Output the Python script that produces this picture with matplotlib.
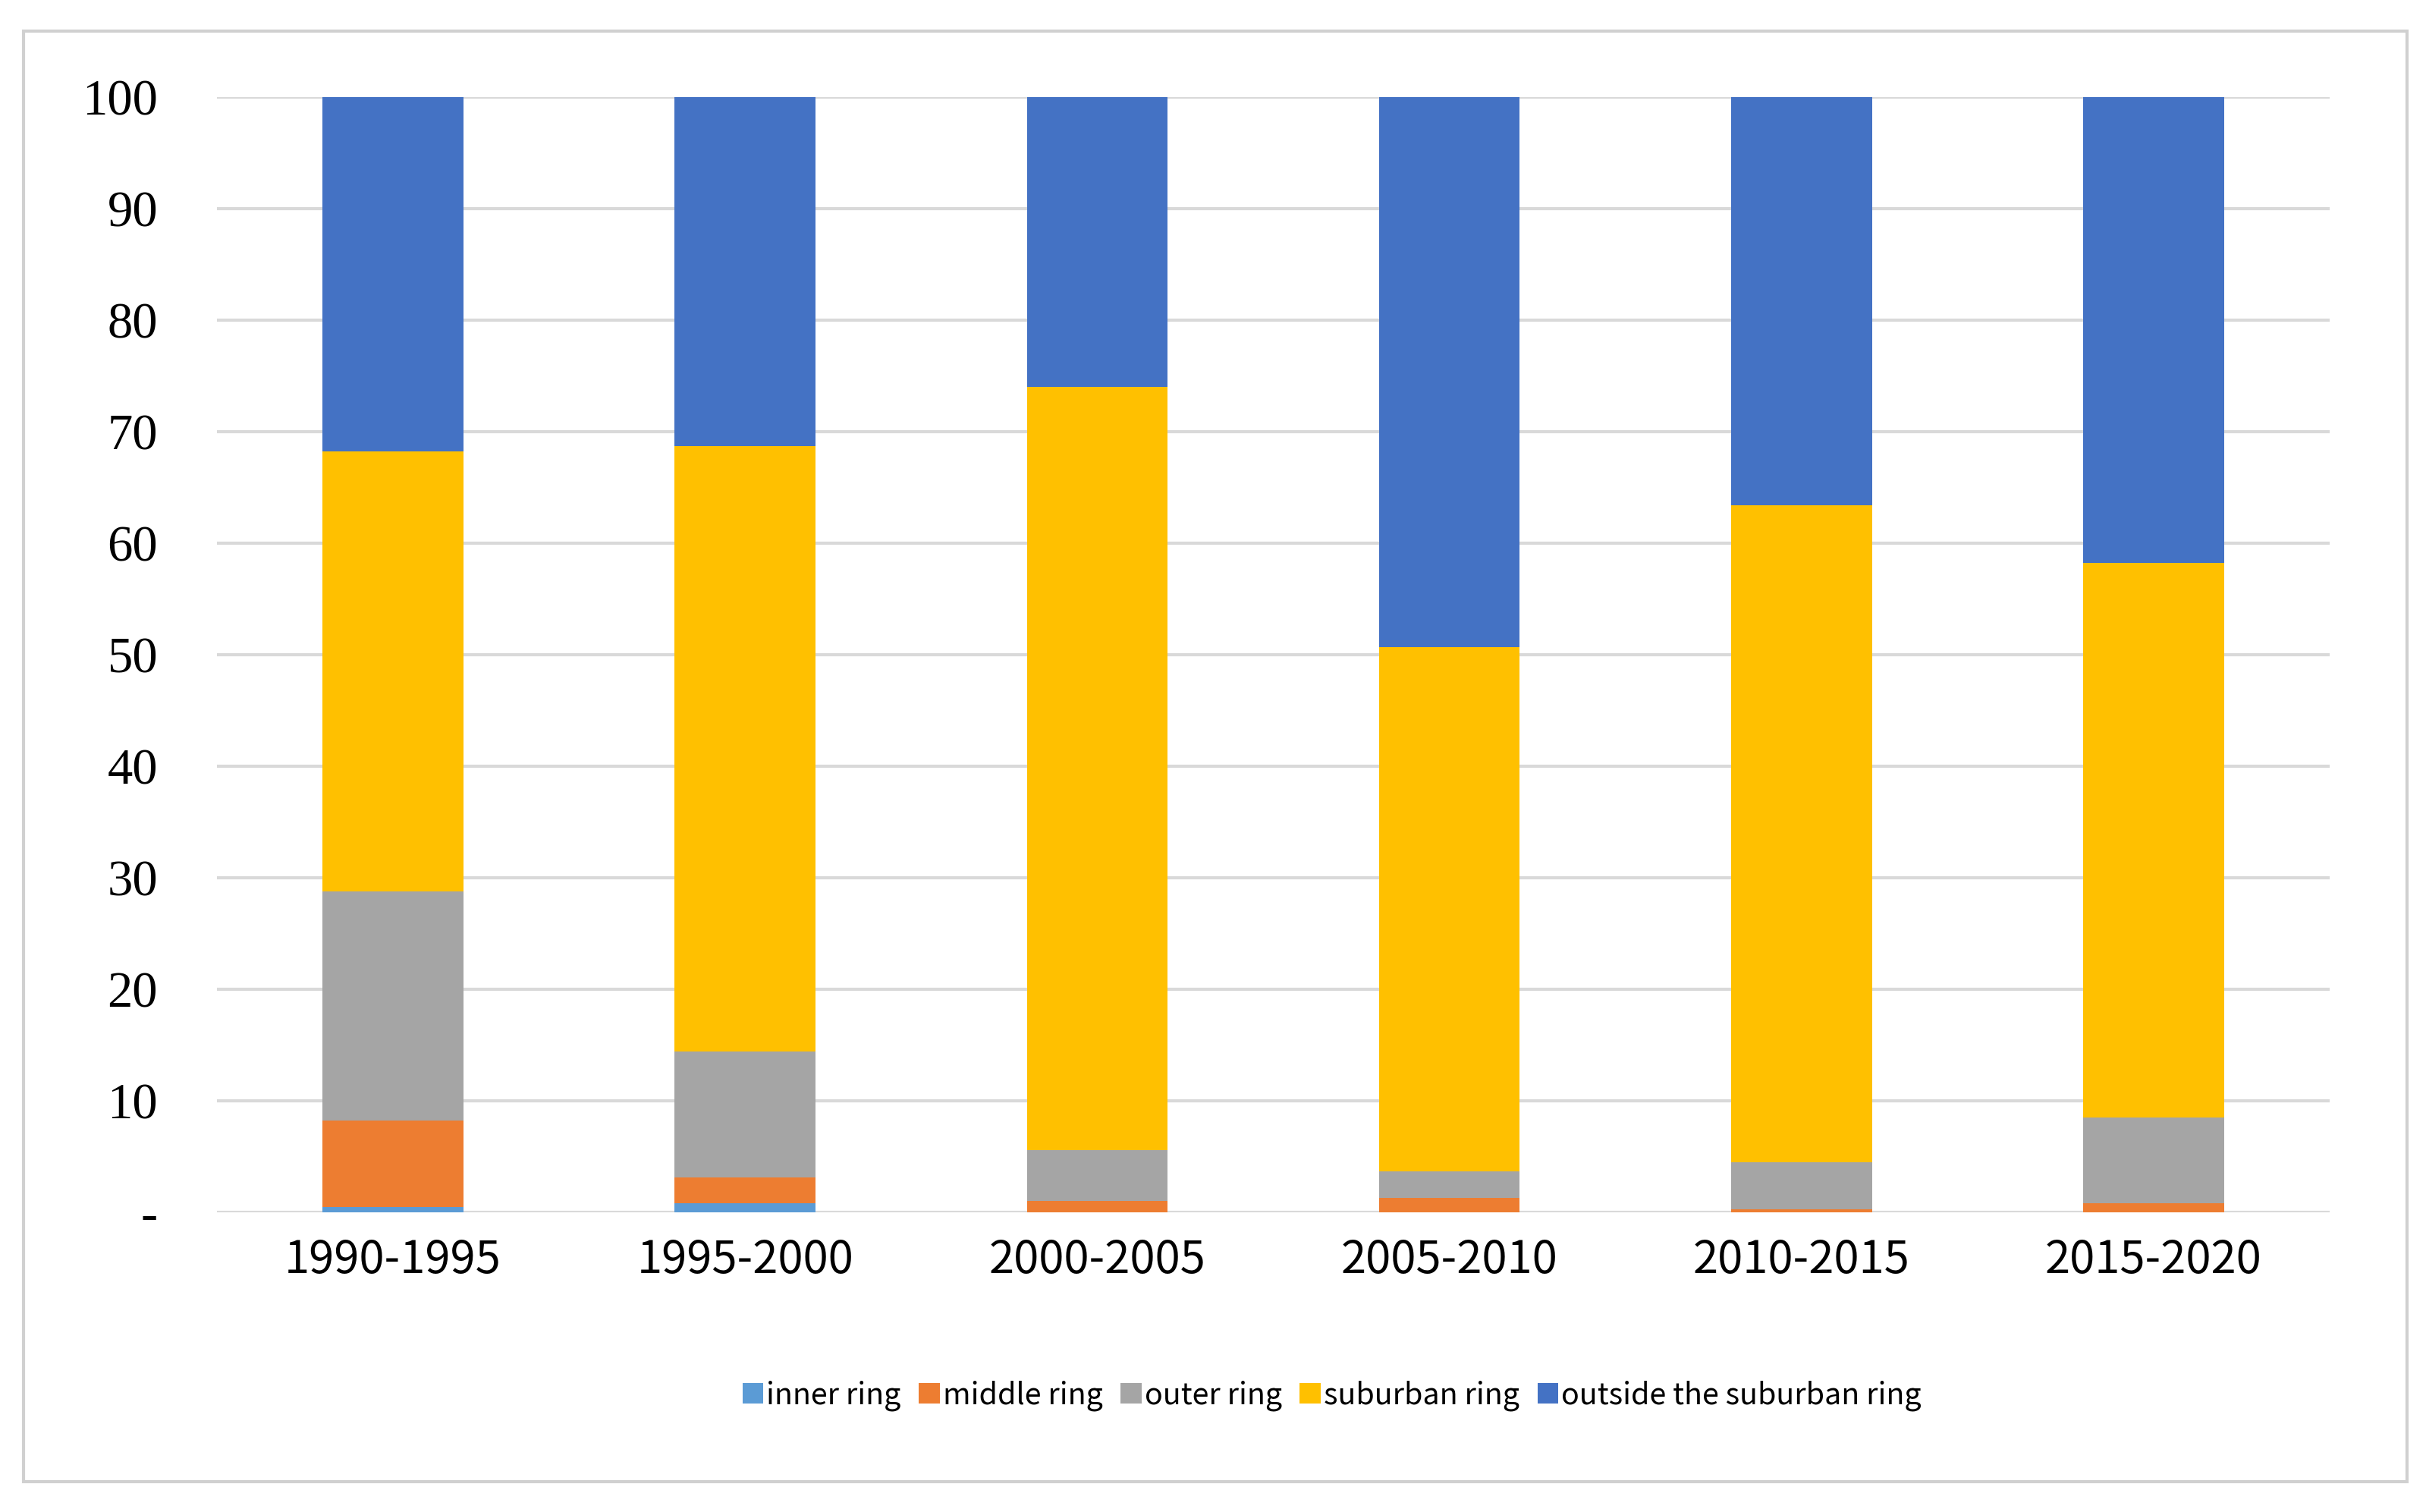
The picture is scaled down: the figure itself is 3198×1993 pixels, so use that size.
import matplotlib.pyplot as plt
from matplotlib.patches import Rectangle
import numpy as np

periods = ['1990-1995', '1995-2000', '2000-2005', '2005-2010', '2010-2015', '2015-2020']
inner = [0.5, 0.8, 0.0, 0.0, 0.0, 0.0]
middle = [7.7, 2.3, 1.0, 1.3, 0.3, 0.8]
outer = [20.6, 11.3, 4.6, 2.4, 4.2, 7.7]
suburban = [39.4, 54.3, 68.4, 47.0, 58.9, 49.7]
outside = [31.8, 31.3, 26.0, 49.3, 36.6, 41.8]

names = ['inner ring', 'middle ring', 'outer ring', 'suburban ring', 'outside the suburban ring']
colors = ['#5B9BD5', '#ED7D31', '#A5A5A5', '#FFC000', '#4472C4']

fig = plt.figure(figsize=(15.99, 9.965), dpi=200)
ax = fig.add_axes([0.0894, 0.1982, 0.8709, 0.7376])

x = np.arange(len(periods))
bottom = np.zeros(len(periods))
for vals, name, c in zip([inner, middle, outer, suburban, outside], names, colors):
    ax.bar(x, vals, 0.4, bottom=bottom, color=c, label=name, zorder=3)
    bottom += np.array(vals)

ax.set_xlim(-0.5, 5.5)
ax.set_ylim(0, 100)
ax.set_yticks(range(0, 101, 10))
ax.set_yticklabels(['-'] + [str(v) for v in range(10, 101, 10)],
                   fontfamily='Liberation Serif', fontsize=24)
ax.set_xticks(x)
ax.set_xticklabels(periods, fontfamily=['Noto Sans CJK SC', 'DejaVu Sans'], fontsize=21.5)
ax.tick_params(axis='y', length=0, pad=28)
ax.tick_params(axis='x', length=0, pad=12)
ax.grid(axis='y', color='#d9d9d9', linewidth=1.5, zorder=0)
for s in ax.spines.values():
    s.set_visible(False)

leg = fig.legend(loc='center', bbox_to_anchor=(0.549, 0.077), ncol=5, frameon=False,
                 prop={'family': ['Noto Sans CJK SC', 'DejaVu Sans'], 'size': 14.2},
                 handlelength=0.7, handleheight=0.7, handletextpad=0.1, columnspacing=0.6)

fig.patches.append(Rectangle((0.0097, 0.0201), 0.9825, 0.9593, transform=fig.transFigure,
                             fill=False, edgecolor='#d0d0d0', linewidth=1.5))

fig.savefig('out.png')
